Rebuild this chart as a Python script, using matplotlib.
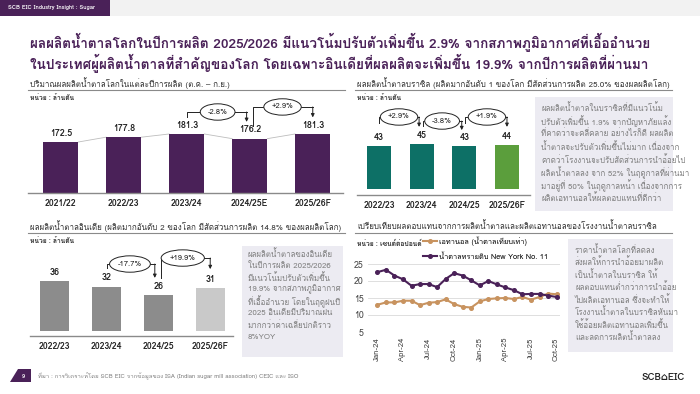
import matplotlib
matplotlib.use("Agg")
import matplotlib.pyplot as plt
from matplotlib import font_manager
from matplotlib.ft2font import FT2Font
from matplotlib.lines import Line2D
from matplotlib.patches import Rectangle, Polygon
from matplotlib.transforms import blended_transform_factory


# pick any installed font that can draw Thai, fall back to DejaVu
def find_thai_font():
    names = []
    for f in font_manager.fontManager.ttflist:
        try:
            if FT2Font(f.fname).get_char_index(ord("ก")):
                names.append(f.name)
        except Exception:
            pass
    return names[0] if names else None


thai = find_thai_font()
fams = [thai, "DejaVu Sans"] if thai else ["DejaVu Sans"]
plt.rcParams["font.family"] = fams

# ---- data ----
world_years = ["2021/22", "2022/23", "2023/24", "2024/25E", "2025/26F"]
world_prod = [172.5, 177.8, 181.3, 176.2, 181.3]

brazil_years = ["2022/23", "2023/24", "2024/25", "2025/26F"]
brazil_prod = [43, 45, 43, 44]

india_years = ["2022/23", "2023/24", "2024/25", "2025/26F"]
india_prod = [36, 32, 26, 31]

months = ["Jan-24", "Feb-24", "Mar-24", "Apr-24", "May-24", "Jun-24", "Jul-24", "Aug-24",
          "Sep-24", "Oct-24", "Nov-24", "Dec-24", "Jan-25", "Feb-25", "Mar-25", "Apr-25",
          "May-25", "Jun-25", "Jul-25", "Aug-25", "Sep-25", "Oct-25"]
sugar_ny11 = [22.6, 23.3, 21.6, 20.5, 18.6, 19.1, 19.1, 18.2, 20.6, 22.3, 21.6, 20.2,
              18.7, 20.0, 19.0, 18.1, 17.3, 16.1, 16.2, 16.2, 15.7, 15.3]
ethanol_eq = [13.0, 13.7, 13.7, 14.2, 14.2, 12.9, 13.6, 13.8, 14.6, 13.2, 12.4, 12.2,
              14.0, 14.7, 14.9, 15.0, 14.7, 15.3, 14.5, 15.3, 16.3, 16.1]

PURPLE = "#4a2158"
TEAL = "#0d7066"
GREEN = "#5b9e3c"
GREY_BAR = "#8c8c8c"
LIGHT_BAR = "#c9c9c9"
ORANGE = "#c8935f"
BOXBG = "#ecebf2"
TXT_GREY = "#7f7f7f"

W, H = 700, 394
fig = plt.figure(figsize=(7, 3.94), dpi=100)


def fx(x):
    return x / W


def fy(y):
    return 1 - y / H


def add_ax(x0, y0, x1, y1):
    # pixel box (top-left origin) -> axes
    return fig.add_axes([fx(x0), fy(y1), (x1 - x0) / W, (y1 - y0) / H])


def hline(x0, x1, y, color="#8a8a8a", lw=0.8):
    fig.add_artist(Line2D([fx(x0), fx(x1)], [fy(y), fy(y)], color=color, lw=lw))


def ftext(x, y, s, **kw):
    fig.text(fx(x), fy(y), s, **kw)


def textbox(x0, y0, x1, y1, lines, y_first, step, x_text):
    fig.add_artist(Rectangle((fx(x0), fy(y1)), (x1 - x0) / W, (y1 - y0) / H,
                             transform=fig.transFigure, fc=BOXBG, ec="none"))
    for i, ln in enumerate(lines):
        ftext(x_text, y_first + i * step, ln, fontsize=5.7, color=TXT_GREY, va="center")


def bracket(ax, x0, x1, y_start, y_line, y_end, label, lx):
    tr = blended_transform_factory(ax.transData, ax.transAxes)
    ax.plot([x0, x0, x1], [y_start, y_line, y_line], color="#222222", lw=0.7,
            transform=tr, clip_on=False)
    ax.annotate("", xy=(x1, y_end), xytext=(x1, y_line), xycoords=tr, textcoords=tr,
                arrowprops=dict(arrowstyle="-|>", lw=0.7, color="#222222",
                                mutation_scale=5, shrinkA=0, shrinkB=0))
    ax.text(lx, y_line, label, transform=tr, ha="center", va="center", fontsize=5.5,
            color="#222222", bbox=dict(boxstyle="ellipse,pad=0.3", fc="white",
                                       ec="#222222", lw=0.7))


def bar_panel(ax, cats, vals, colors, ylim, xlim, spine=True):
    x = list(range(len(cats)))
    bars = ax.bar(x, vals, width=0.56, color=colors, zorder=2)
    ax.set_ylim(*ylim)
    ax.set_xlim(*xlim)
    ax.set_xticks(x)
    ax.set_xticklabels(cats, fontsize=6.3, fontweight="bold", color="#222222")
    ax.tick_params(axis="x", length=0, pad=4)
    ax.set_yticks([])
    for s in ["top", "right", "left"]:
        ax.spines[s].set_visible(False)
    ax.spines["bottom"].set_visible(spine)
    ax.spines["bottom"].set_color("#8a8a8a")
    ax.spines["bottom"].set_linewidth(1.0)
    ax.patch.set_alpha(0)
    for xi, v in zip(x, vals):
        lab = f"{v:.1f}" if isinstance(v, float) else str(v)
        ax.annotate(lab, (xi, v), xytext=(0, 3), textcoords="offset points",
                    ha="center", va="bottom", fontsize=6.5, fontweight="bold",
                    color="#222222")
    return bars


# ---- header ----
fig.add_artist(Rectangle((0, fy(16)), 1, 16 / H, transform=fig.transFigure,
                         fc="#f2f2f2", ec="none"))
fig.add_artist(Rectangle((0, fy(16)), fx(110), 16 / H, transform=fig.transFigure,
                         fc=PURPLE, ec="none"))
ftext(8, 8, "SCB EIC Industry Insight : Sugar", fontsize=4.2, color="white",
      fontweight="bold", va="center")

ftext(30, 42, "ผลผลิตน้ำตาลโลกในปีการผลิต 2025/2026 มีแนวโน้มปรับตัวเพิ่มขึ้น 2.9% จากสภาพภูมิอากาศที่เอื้ออำนวย",
      fontsize=9.75, fontweight="bold", color=PURPLE, va="center")
ftext(30, 63, "ในประเทศผู้ผลิตน้ำตาลที่สำคัญของโลก โดยเฉพาะอินเดียที่ผลผลิตจะเพิ่มขึ้น 19.9% จากปีการผลิตที่ผ่านมา",
      fontsize=9.75, fontweight="bold", color=PURPLE, va="center")

# ---- panel titles ----
ftext(30, 83, "ปริมาณผลผลิตน้ำตาลโลกในแต่ละปีการผลิต (ต.ค. – ก.ย.)", fontsize=5.8,
      color="#333333", va="center")
hline(28, 345, 90)
ftext(30, 98, "หน่วย : ล้านตัน", fontsize=4.8, color="#333333", va="center",
      fontweight="bold")

ftext(357, 83, "ผลผลิตน้ำตาลบราซิล (ผลิตมากอันดับ 1 ของโลก มีสัดส่วนการผลิต 25.0% ของผลผลิตโลก)",
      fontsize=5.8, color="#333333", va="center")
hline(355, 672, 90)
ftext(357, 98, "หน่วย : ล้านตัน", fontsize=4.8, color="#333333", va="center",
      fontweight="bold")

ftext(30, 226, "ผลผลิตน้ำตาลอินเดีย (ผลิตมากอันดับ 2 ของโลก มีสัดส่วนการผลิต 14.8% ของผลผลิตโลก)",
      fontsize=5.8, color="#333333", va="center")
hline(28, 345, 233)
ftext(30, 241, "หน่วย : ล้านตัน", fontsize=4.8, color="#333333", va="center",
      fontweight="bold")

ftext(357, 226, "เปรียบเทียบผลตอบแทนจากการผลิตน้ำตาลและผลิตเอทานอลของโรงงานน้ำตาลบราซิล",
      fontsize=5.8, color="#333333", va="center")
hline(355, 672, 233)
ftext(357, 243, "หน่วย : เซนต์ต่อปอนด์", fontsize=4.8, color="#333333", va="center",
      fontweight="bold")

# ---- panel 1: world ----
ax1 = add_ax(28, 103, 343, 193)
bar_panel(ax1, world_years, world_prod, [PURPLE] * 5, (116.4, 215.4), (-0.52, 4.48))
for i in range(len(world_prod) - 1):
    ax1.plot([i + 0.28, i + 0.72], [world_prod[i], world_prod[i + 1]],
             color="#bdbdbd", lw=0.6, zorder=1)
bracket(ax1, 2.0, 2.95, 0.85, 0.9, 0.79, "-2.8%", 2.49)
bracket(ax1, 3.05, 4.0, 0.75, 0.956, 0.84, "+2.9%", 3.52)

# ---- panel 2: brazil ----
ax2 = add_ax(357, 103, 530, 195)
bar_panel(ax2, brazil_years, brazil_prod, [TEAL, TEAL, TEAL, GREEN], (-6, 86),
          (-0.515, 3.54), spine=True)
bracket(ax2, 0.0, 0.94, 0.783, 0.848, 0.74, "+2.9%", 0.47)
bracket(ax2, 1.03, 1.94, 0.75, 0.804, 0.705, "-3.8%", 1.48)
bracket(ax2, 2.01, 3.0, 0.783, 0.848, 0.74, "+1.9%", 2.53)

textbox(535, 97, 673, 211, [
    "ผลผลิตน้ำตาลในบราซิลที่มีแนวโน้ม",
    "ปรับตัวเพิ่มขึ้น 1.9% จากปัญหาภัยแล้ง",
    "ที่คาดว่าจะคลี่คลาย อย่างไรก็ดี ผลผลิต",
    "น้ำตาลจะปรับตัวเพิ่มขึ้นไม่มาก เนื่องจาก",
    "คาดว่าโรงงานจะปรับสัดส่วนการนำอ้อยไป",
    "ผลิตน้ำตาลลง จาก 52% ในฤดูกาลที่ผ่านมา",
    "มาอยู่ที่ 50% ในฤดูกาลหน้า เนื่องจากการ",
    "ผลิตเอทานอลให้ผลตอบแทนที่ดีกว่า",
], 108, 12.9, 541)

# ---- panel 3: india ----
ax3 = add_ax(30, 248, 233, 336)
bar_panel(ax3, india_years, india_prod, [GREY_BAR, GREY_BAR, GREY_BAR, LIGHT_BAR],
          (-3.3, 59.5), (-0.48, 3.44))
bracket(ax3, 1.0, 1.93, 0.773, 0.818, 0.66, "-17.7%", 1.45)
bracket(ax3, 2.05, 3.0, 0.659, 0.886, 0.76, "+19.9%", 2.47)

textbox(242, 246, 343, 357, [
    "ผลผลิตน้ำตาลของอินเดีย",
    "ในปีการผลิต 2025/2026",
    "มีแนวโน้มปรับตัวเพิ่มขึ้น",
    "19.9% จากสภาพภูมิอากาศ",
    "ที่เอื้ออำนวย โดยในฤดูฝนปี",
    "2025 อินเดียมีปริมาณฝน",
    "มากกว่าค่าเฉลี่ยปกติราว",
    "8%YOY",
], 254, 11.9, 248)

# ---- panel 4: returns ----
ax4 = add_ax(368, 264, 560, 332)
xm = list(range(len(months)))
ax4.plot(xm, ethanol_eq, color=ORANGE, lw=1.5, marker="o", ms=2.6,
         label="เอทานอล (น้ำตาลเทียบเท่า)", zorder=3)
ax4.plot(xm, sugar_ny11, color=PURPLE, lw=1.5, marker="o", ms=2.6,
         label="น้ำตาลทรายดิบ New York No. 11", zorder=3)
ax4.set_ylim(5, 25)
ax4.set_xlim(-1.1, 21.4)
ax4.set_yticks([5, 10, 15, 20, 25])
ax4.set_xticks(xm[::3])
ax4.set_xticklabels(months[::3], rotation=90, fontsize=5.6, color="#444444")
ax4.tick_params(axis="y", labelsize=6.3, labelcolor="#444444", length=0, pad=3)
ax4.tick_params(axis="x", length=0, pad=4)
ax4.grid(axis="y", color="#d9d9d9", lw=0.6, zorder=0)
for s in ax4.spines.values():
    s.set_visible(False)
ax4.legend(loc="upper left", bbox_to_anchor=(fx(423), fy(236)),
           bbox_transform=fig.transFigure, frameon=False, fontsize=5.3,
           handlelength=1.9, handletextpad=0.3, labelspacing=1.0,
           borderpad=0, borderaxespad=0)

textbox(568, 239, 673, 352, [
    "ราคาน้ำตาลโลกที่ลดลง",
    "ส่งผลให้การนำอ้อยมาผลิต",
    "เป็นน้ำตาลในบราซิล ให้",
    "ผลตอบแทนต่ำกว่าการนำอ้อย",
    "ไปผลิตเอทานอล ซึ่งจะทำให้",
    "โรงงานน้ำตาลในบราซิลหันมา",
    "ใช้อ้อยผลิตเอทานอลเพิ่มขึ้น",
    "และลดการผลิตน้ำตาลลง",
], 250, 12.5, 575)

# ---- footer ----
fig.add_artist(Polygon([(fx(10), fy(382)), (fx(18), fy(369)), (fx(31), fy(369)),
                        (fx(31), fy(382))], closed=True, transform=fig.transFigure,
                       fc=PURPLE, ec="none"))
ftext(23, 376, "9", fontsize=4, color="white", ha="center", va="center",
      fontweight="bold")
ftext(38, 376, "ที่มา : การวิเคราะห์โดย SCB EIC จากข้อมูลของ ISA (Indian sugar mill association) CEIC และ ISO",
      fontsize=4.3, color=TXT_GREY, va="center")
ftext(663, 378, "SCB⌂EIC", fontsize=7, color="#222222", ha="center", va="center",
      fontweight="bold")

fig.savefig("out.png", dpi=100)
